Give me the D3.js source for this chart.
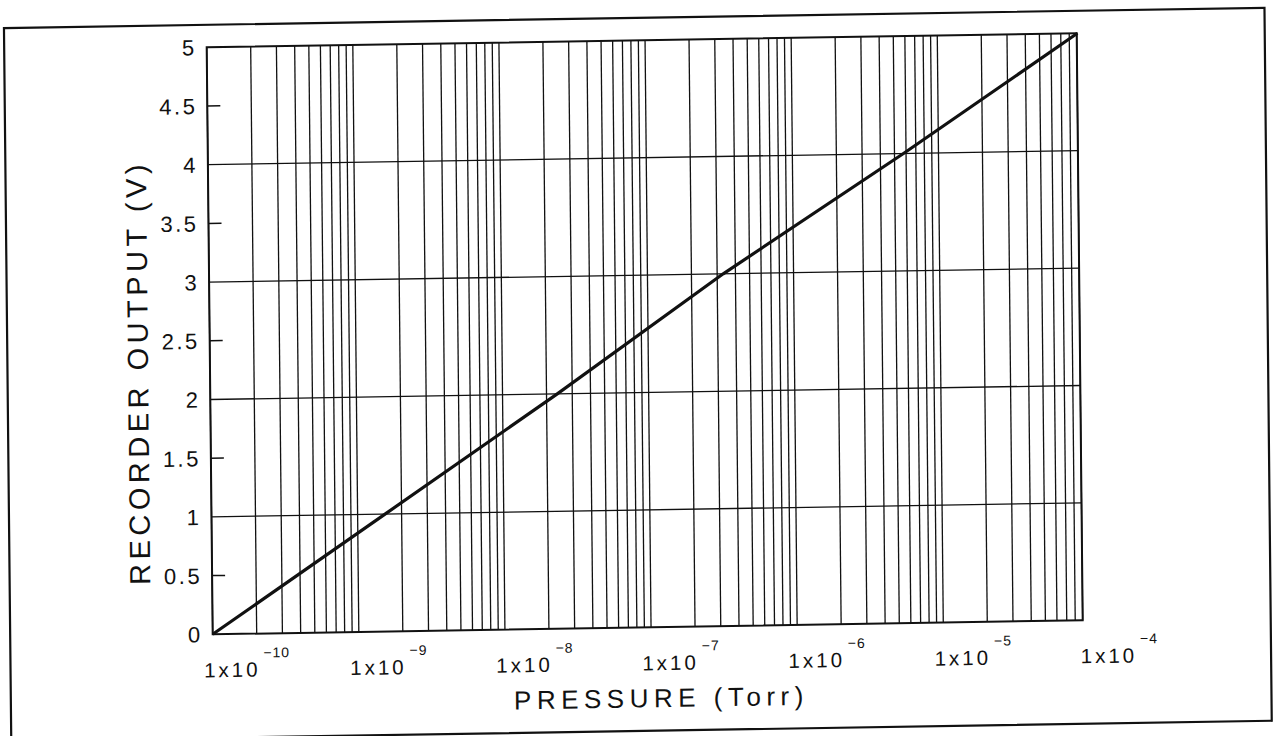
<!DOCTYPE html>
<html>
<head>
<meta charset="utf-8">
<script src="https://cdn.jsdelivr.net/npm/d3@7"></script>
<style>
  html, body { margin: 0; padding: 0; background: #fff; }
  svg { display: block; }
  text { font-family: "Liberation Sans", Arial, sans-serif; fill: #111; }
</style>
</head>
<body>
<svg id="chart" width="1274" height="736"></svg>
<script>
// ---- data ----
const pressureTorr = [1e-10, 1.54e-9, 2.37e-8, 3.3e-7, 5.76e-6, 9.1e-5];
const outputVolts  = [0, 1, 2, 3, 4, 5];
const xDomain = [1e-10, 9e-5];
const yDomain = [0, 5];
const decadeTicks = [1e-10, 1e-9, 1e-8, 1e-7, 1e-6, 1e-5, 1e-4];
const decadeExponents = ["\u221210", "\u22129", "\u22128", "\u22127", "\u22126", "\u22125", "\u22124"];
const yTickValues = [0, 0.5, 1, 1.5, 2, 2.5, 3, 3.5, 4, 4.5, 5];
const yTickLabels = ["0", "0.5", "1", "1.5", "2", "2.5", "3", "3.5", "4", "4.5", "5"];
const yGridValues = [1, 2, 3, 4];
const xTitle = "PRESSURE (Torr)";
const yTitle = "RECORDER OUTPUT (V)";

// ---- layout ----
const plot = { left: 207, top: 40, width: 870, height: 587 };
const svg = d3.select("#chart");
// scanned page is slightly skewed: reproduce with an affine transform
const page = svg.append("g").attr("transform", "matrix(1,-0.01609,0.01022,1,-0.71,10.63)");

// outer frame
page.append("rect")
  .attr("x", 4.5).attr("y", 17.5).attr("width", 1260.5).attr("height", 713)
  .attr("fill", "none").attr("stroke", "#111").attr("stroke-width", 2.2);

const x = d3.scaleLog().domain(xDomain).range([plot.left, plot.left + plot.width]);
const y = d3.scaleLinear().domain(yDomain).range([plot.top + plot.height, plot.top]);

const g = page.append("g");

// vertical log grid (1..9 in each decade)
g.selectAll("line.vgrid").data(x.ticks()).join("line")
  .attr("class", "vgrid")
  .attr("x1", d => x(d)).attr("x2", d => x(d))
  .attr("y1", y(yDomain[0])).attr("y2", y(yDomain[1]))
  .attr("stroke", "#111").attr("stroke-width", 1.3);

// horizontal grid
g.selectAll("line.hgrid").data(yGridValues).join("line")
  .attr("class", "hgrid")
  .attr("x1", x(xDomain[0])).attr("x2", x(xDomain[1]))
  .attr("y1", d => y(d)).attr("y2", d => y(d))
  .attr("stroke", "#111").attr("stroke-width", 1.3);

// half-volt ticks on left axis
g.selectAll("line.ytick").data(yTickValues.filter(v => v % 1 !== 0)).join("line")
  .attr("class", "ytick")
  .attr("x1", x(xDomain[0])).attr("x2", x(xDomain[0]) + 13)
  .attr("y1", d => y(d)).attr("y2", d => y(d))
  .attr("stroke", "#111").attr("stroke-width", 1.5);

// plot frame
g.append("rect")
  .attr("x", x(xDomain[0])).attr("y", y(yDomain[1]))
  .attr("width", x(xDomain[1]) - x(xDomain[0]))
  .attr("height", y(yDomain[0]) - y(yDomain[1]))
  .attr("fill", "none").attr("stroke", "#111").attr("stroke-width", 2);

// y tick labels
g.selectAll("text.ylab").data(yTickValues).join("text")
  .attr("class", "ylab")
  .attr("x", x(xDomain[0]) - 10)
  .attr("y", d => y(d))
  .attr("dy", "0.36em")
  .attr("text-anchor", "end")
  .attr("font-size", 22)
  .attr("letter-spacing", 2.5)
  .text((d, i) => yTickLabels[i]);

// x tick labels 1x10^n
const xl = g.selectAll("text.xlab").data(decadeTicks).join("text")
  .attr("class", "xlab")
  .attr("x", d => x(d) - 9)
  .attr("y", y(yDomain[0]) + 43)
  .attr("font-size", 20.5)
  .attr("letter-spacing", 3);
xl.append("tspan").text("1x10");
xl.append("tspan")
  .attr("dx", 3).attr("dy", -19)
  .attr("font-size", 14).attr("letter-spacing", 1)
  .text((d, i) => decadeExponents[i]);

// data line
const line = d3.line().x((d, i) => x(pressureTorr[i])).y(d => y(d));
g.append("path")
  .datum(outputVolts)
  .attr("d", line)
  .attr("fill", "none").attr("stroke", "#111").attr("stroke-width", 3.2)
  .attr("stroke-linejoin", "round");

// axis titles
g.append("text")
  .attr("x", 655).attr("y", 707)
  .attr("text-anchor", "middle")
  .attr("font-size", 26)
  .attr("letter-spacing", 5.5)
  .text(xTitle);

g.append("text")
  .attr("transform", "translate(145,364) rotate(-90)")
  .attr("text-anchor", "middle")
  .attr("font-size", 29)
  .attr("letter-spacing", 4.5)
  .text(yTitle);
</script>
</body>
</html>
